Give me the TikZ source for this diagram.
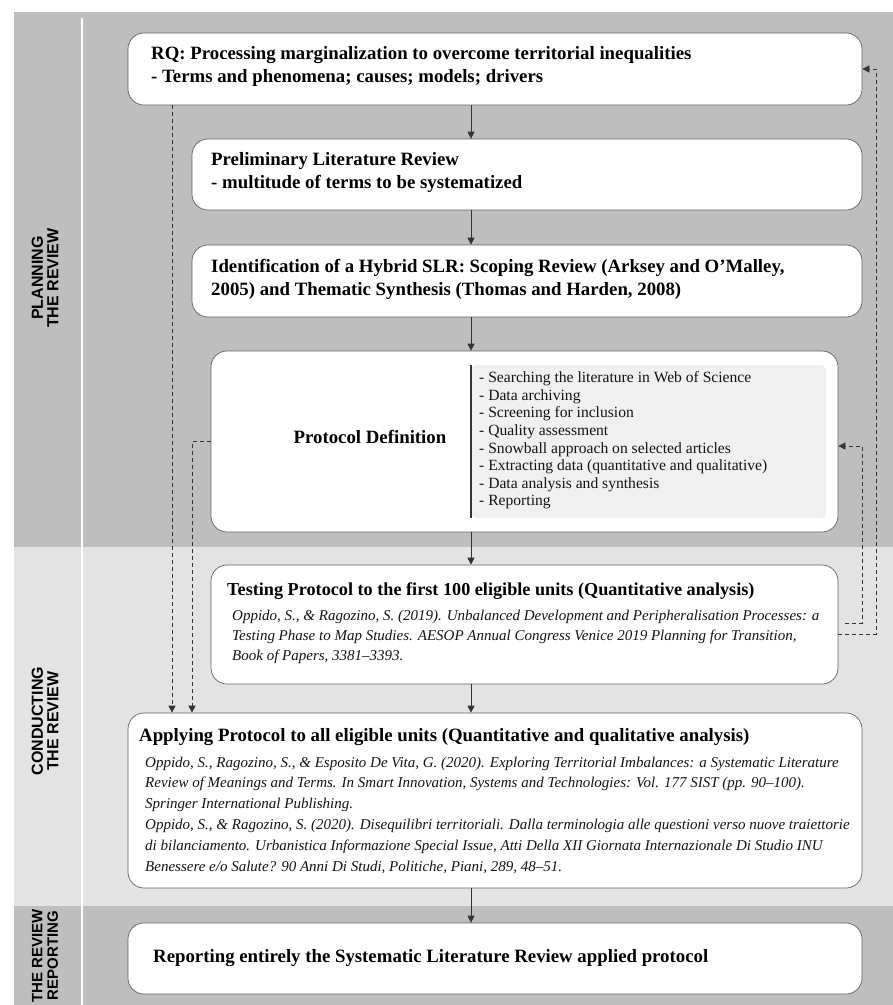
\documentclass[tikz,border=0pt]{standalone}
\usepackage{fontspec}
\setmainfont{Liberation Serif}
\newfontfamily\labelfont{Liberation Sans}
\usetikzlibrary{arrows.meta,calc}
\definecolor{bandDark}{gray}{0.745}
\definecolor{bandLight}{gray}{0.89}
\definecolor{listFill}{gray}{0.94}
\definecolor{edge}{gray}{0.38}
\definecolor{ink}{gray}{0.2}
\begin{document}
\begin{tikzpicture}[x=1pt,y=-1pt,
  box/.style={draw=edge, line width=0.7pt, fill=white, rounded corners=16pt, inner sep=0pt},
  title/.style={font=\fontsize{18.8}{23}\selectfont\bfseries, anchor=west, align=left, inner sep=0pt},
  ref/.style={font=\fontsize{15}{20}\selectfont\itshape, anchor=west, align=left, inner sep=0pt, text=black!92},
  listtext/.style={font=\fontsize{15.6}{17.6}\selectfont, anchor=west, align=left, inner sep=0pt, text=black!92},
  flow/.style={-{Triangle[length=7pt,width=7pt]}, line width=0.8pt, draw=ink},
  fb/.style={dash pattern=on 4pt off 3pt, line width=0.7pt, draw=ink},
  fbarrow/.style={fb, -{Triangle[length=7pt,width=7pt]}},
  side/.style={font=\labelfont\bfseries\fontsize{16}{15.5}\selectfont, rotate=90, align=center, inner sep=0pt}
]
\useasboundingbox (0,0) rectangle (893,1005);
\fill[white] (0,0) rectangle (893,1005);
% bands
\fill[bandDark] (14,12) rectangle (893,547);
\fill[bandLight] (14,547) rectangle (893,906);
\fill[bandDark] (14,906) rectangle (893,1005);
\draw[white, line width=1.5pt] (82,18) -- (82,1005);

% side labels
\node[side] (lplan) at (45,278) {PLANNING\\THE REVIEW};
\node[side] (lcond) at (45,721) {CONDUCTING\\THE REVIEW};
\node[side, font=\labelfont\bfseries\fontsize{15}{15.5}\selectfont] (lrep) at (45,955.5) {THE REVIEW\\REPORTING};

% boxes
\node[box, minimum width=734pt, minimum height=72pt] (rq) at (495,69) {};
\node[box, minimum width=670pt, minimum height=71pt] (pre) at (527,174.5) {};
\node[box, minimum width=670pt, minimum height=72pt] (ide) at (527,281) {};
\node[box, minimum width=627pt, minimum height=181pt] (pro) at (524.5,441.5) {};
\node[box, minimum width=627pt, minimum height=119pt] (tes) at (524.5,624.5) {};
\node[box, minimum width=734pt, minimum height=175pt] (app) at (495,800.5) {};
\node[box, minimum width=734pt, minimum height=71pt] (rep) at (495,958.5) {};

% texts
\node[title] (rqt) at (151,66.5) {RQ: Processing marginalization to overcome territorial inequalities\\- Terms and phenomena; causes; models; drivers};
\node[title] (pret) at (211,172.5) {Preliminary Literature Review\\- multitude of terms to be systematized};
\node[title] (idet) at (211,279) {Identification of a Hybrid SLR: Scoping Review (Arksey and O'Malley,\\2005) and Thematic Synthesis (Thomas and Harden, 2008)};
\node[title, anchor=center] (prot) at (370,437) {Protocol Definition};
\fill[listFill, rounded corners=6pt] (471,365) rectangle (826,518);
\draw[ink, line width=1.2pt] (471,365) -- (471,518);
\node[listtext] (list) at (479,440.5) {- Searching the literature in Web of Science\\- Data archiving\\- Screening for inclusion\\- Quality assessment\\- Snowball approach on selected articles\\- Extracting data (quantitative and qualitative)\\- Data analysis and synthesis\\- Reporting};
\node[title, font=\fontsize{18.2}{23}\selectfont\bfseries] (test) at (227,591) {Testing Protocol to the first 100 eligible units (Quantitative analysis)};
\node[ref] (tesr) at (232,637) {Oppido, S., \& Ragozino, S. (2019). Unbalanced Development and Peripheralisation Processes: a\\Testing Phase to Map Studies. AESOP Annual Congress Venice 2019 Planning for Transition,\\Book of Papers, 3381–3393.};
\node[title] (appt) at (139,737) {Applying Protocol to all eligible units (Quantitative and qualitative analysis)};
\node[ref, font=\fontsize{15}{20.8}\selectfont\itshape] (appr) at (145,815) {Oppido, S., Ragozino, S., \& Esposito De Vita, G. (2020). Exploring Territorial Imbalances: a Systematic Literature\\Review of Meanings and Terms. In Smart Innovation, Systems and Technologies: Vol. 177 SIST (pp. 90–100).\\Springer International Publishing.\\Oppido, S., \& Ragozino, S. (2020). Disequilibri territoriali. Dalla terminologia alle questioni verso nuove traiettorie\\di bilanciamento. Urbanistica Informazione Special Issue, Atti Della XII Giornata Internazionale Di Studio INU\\Benessere e/o Salute? 90 Anni Di Studi, Politiche, Piani, 289, 48–51.};
\node[title] (rept) at (153,958) {Reporting entirely the Systematic Literature Review applied protocol};

% main flow
\coordinate (mx) at (471,0);
\draw[flow] (rq.south -| mx) -- (pre.north -| mx);
\draw[flow] (pre.south -| mx) -- (ide.north -| mx);
\draw[flow] (ide.south -| mx) -- (pro.north -| mx);
\draw[flow] (pro.south -| mx) -- (tes.north -| mx);
\draw[flow] (tes.south -| mx) -- (app.north -| mx);
\draw[flow] (app.south -| mx) -- (rep.north -| mx);

% feedback / dashed
\coordinate (d1) at (172,0);
\coordinate (d2) at (192,0);
\coordinate (d3) at (862,0);
\coordinate (d4) at (876,0);
\draw[fbarrow] (rq.south -| d1) -- (app.north -| d1);
\draw[fbarrow] (pro.west) -- (pro.west -| d2) -- (app.north -| d2);
\coordinate (t3) at ($(tes.east)+(7,-1.5)$);
\coordinate (t4) at ($(tes.east)+(0,9.5)$);
\coordinate (p3) at ($(pro.east)+(0,4.5)$);
\draw[fbarrow] (t3) -- (t3 -| d3) -- (p3 -| d3) -- (p3);
\draw[fbarrow] (t4) -- (t4 -| d4) -- (rq.east -| d4) -- (rq.east);
\end{tikzpicture}
\end{document}
